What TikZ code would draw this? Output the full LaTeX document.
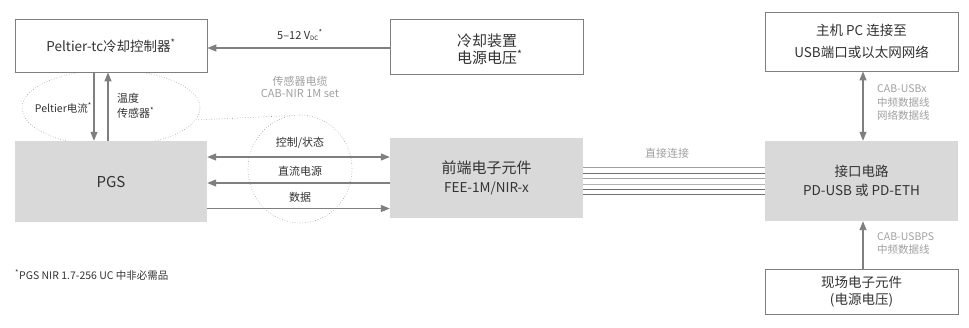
\documentclass[tikz,border=0pt]{standalone}
\usepackage{fontspec}
\setmainfont{Noto Sans CJK SC}
\usetikzlibrary{arrows.meta,shapes.geometric}
\definecolor{txt}{HTML}{333333}
\definecolor{lgray}{HTML}{A0A0A0}
\definecolor{agray}{HTML}{7F7F7F}
\definecolor{dgray}{HTML}{707070}
\definecolor{fillg}{HTML}{D9D9D9}
\definecolor{dotg}{HTML}{9A9A9A}
\newcommand{\fnmark}{\textsuperscript{*}}
\newcommand{\fsz}[1]{\fontsize{#1}{#1}\selectfont}
\begin{document}
\begin{tikzpicture}[x=1pt,y=-1pt,
  every node/.style={text=txt, inner sep=0pt},
  wbox/.style={draw=agray, line width=0.8pt, fill=white, align=center, font=\fsz{13.5}},
  gbox/.style={draw=none, fill=fillg, align=center, font=\fsz{13.5}},
  arr/.style={-{Triangle[length=9pt,width=7pt]}, draw=agray, line width=1.2pt},
  darr/.style={{Triangle[length=9pt,width=7pt]}-{Triangle[length=9pt,width=7pt]}, draw=agray, line width=1.2pt},
  dotell/.style={ellipse, draw=dotg, dotted, line width=0.6pt},
  lbl/.style={font=\fsz{11}, align=center},
  glbl/.style={font=\fsz{11}, text=lgray, align=center},
  wire/.style={line width=1.1pt}
]
\useasboundingbox (0,0) rectangle (969,327);

% dotted ellipses (behind boxes)
\node[dotell, minimum width=178pt, minimum height=76pt] (lell) at (111,108) {};
\node[dotell, minimum width=104pt, minimum height=108pt] (rell) at (300,169) {};
\draw[draw=dotg, dotted, line width=0.6pt] (lell.352) -- (rell.100);

% boxes
\node[wbox, minimum width=192pt, minimum height=53pt] (pelt) at (111,45.5) {Peltier-tc冷却控制器\fnmark};
\node[wbox, minimum width=193pt, minimum height=55pt] (cool) at (486.5,46.5) {};
\node[align=left, font=\fsz{15}, text depth=0pt, anchor=west] (cooltxt) at (457,49) {冷却装置\\[2pt]电源电压\fnmark};
\node[wbox, minimum width=193pt, minimum height=59pt] (host) at (861.5,41.5) {主机 PC 连接至\\[9pt]USB端口或以太网网络};
\node[gbox, minimum width=192pt, minimum height=81pt] (pgs) at (111,181.5) {\fsz{15}PGS};
\node[gbox, minimum width=193pt, minimum height=80pt] (fee) at (486.5,178) {{\fsz{15}前端电子元件}\\[6pt]FEE-1M/NIR-x};
\node[gbox, minimum width=193pt, minimum height=80pt] (iface) at (861.5,181) {接口电路\\[5pt]PD-USB 或 PD-ETH};
\node[wbox, minimum width=193pt, minimum height=45pt] (field) at (861.5,291.5) {现场电子元件\\[4pt](电源电压)};

% cooling supply arrow
\draw[arr] (cool.west |- 0,48) -- (pelt.east |- 0,48);
\node[lbl] (vdc) at (300,35) {5–12 V\textsubscript{\fsz{6}DC}\fnmark};
\node[glbl] (sensorcable) at (300,86.5) {传感器电缆\\[1pt]CAB-NIR 1M set};

% Peltier arrows
\draw[arr] (pelt.south -| 94,0) -- (pgs.north -| 94,0);
\draw[arr] (pgs.north -| 108,0) -- (pelt.south -| 108,0);
\node[lbl, anchor=east, font=\fsz{10.5}] (pcur) at (92,108) {Peltier电流\fnmark};
\node[lbl, anchor=west, align=left] (tsens) at (117,105.5) {温度\\[4pt]传感器\fnmark};

% PGS <-> FEE
\draw[darr] (pgs.east |- 0,157) -- (fee.west |- 0,157);
\draw[arr] (fee.west |- 0,183) -- (pgs.east |- 0,183);
\draw[arr] (pgs.east |- 0,208.5) -- (fee.west |- 0,208.5);
\node[lbl] (ctl) at (300,143) {控制/状态};
\node[lbl] (dcp) at (300,171) {直流电源};
\node[lbl] (dat) at (300,197) {数据};

% direct connection wires
\draw[wire, draw=lgray] (fee.east |- 0,167.7) -- (iface.west |- 0,167.7);
\draw[wire, draw=dgray] (fee.east |- 0,173.2) -- (iface.west |- 0,173.2);
\draw[wire, draw=lgray] (fee.east |- 0,178.7) -- (iface.west |- 0,178.7);
\draw[wire, draw=lgray!80] (fee.east |- 0,184.1) -- (iface.west |- 0,184.1);
\draw[wire, draw=dgray] (fee.east |- 0,189.5) -- (iface.west |- 0,189.5);
\draw[wire, draw=dgray] (fee.east |- 0,194.8) -- (iface.west |- 0,194.8);
\node[glbl] (direct) at (667,153) {直接连接};

% host <-> interface, field -> interface
\draw[darr] (host.south -| 863,0) -- (iface.north -| 863,0);
\draw[arr] (field.north -| 863,0) -- (iface.south -| 863,0);
\node[glbl, anchor=west, align=left, font=\fsz{10.5}] (usbx) at (877,103) {CAB-USBx\\[3pt]中频数据线\\[3pt]网络数据线};
\node[glbl, anchor=west, align=left, font=\fsz{10.5}] (usbps) at (877,243.5) {CAB-USBPS\\[3pt]中频数据线};

% footnote
\node[lbl, anchor=west, font=\fsz{10.5}] (foot) at (15,275) {\fnmark PGS NIR 1.7-256 UC 中非必需品};
\end{tikzpicture}
\end{document}
